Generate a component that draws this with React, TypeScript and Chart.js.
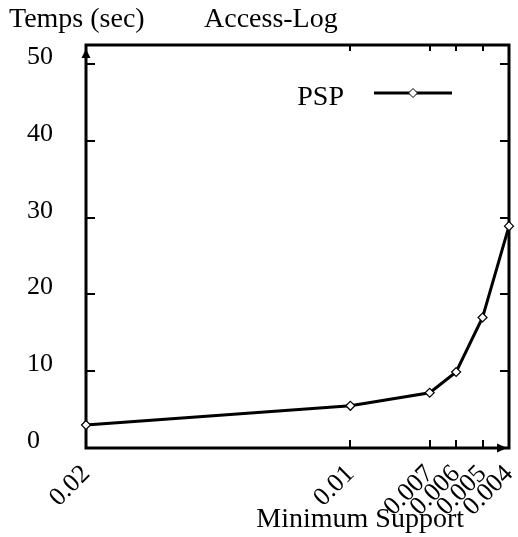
import React, { useEffect, useRef } from 'react';
import { Chart, registerables } from 'chart.js';

Chart.register(...registerables);

const supports = [0.02, 0.01, 0.007, 0.006, 0.005, 0.004];
const pspTimes = [3.0, 5.5, 7.2, 9.9, 17.0, 28.9];
const xTickValues = [0.02, 0.01, 0.007, 0.006, 0.005, 0.004];
const xTickLabels = ['0.02', '0.01', '0.007', '0.006', '0.005', '0.004'];
const yTickValues = [0, 10, 20, 30, 40, 50];
const yTickLabels = ['0', '10', '20', '30', '40', '50'];
const seriesName = 'PSP';
const chartTitle = 'Access-Log';
const yTitle = 'Temps (sec)';
const xTitle = 'Minimum Support';

const FONT = '"Liberation Serif", "Times New Roman", serif';

function line(ctx: CanvasRenderingContext2D, x1: number, y1: number, x2: number, y2: number) {
  ctx.beginPath();
  ctx.moveTo(x1, y1);
  ctx.lineTo(x2, y2);
  ctx.stroke();
}

const framePlugin = {
  id: 'frame',
  beforeDatasetsDraw(chart: any) {
    const { ctx, chartArea: a, scales } = chart;
    ctx.save();
    ctx.strokeStyle = '#000';
    ctx.fillStyle = '#000';
    ctx.lineWidth = 3;
    ctx.strokeRect(a.left, a.top, a.right - a.left, a.bottom - a.top);
    ctx.lineWidth = 2;
    scales.y.ticks.forEach((t: any) => {
      if (t.value <= 0) return;
      const p = Math.round(scales.y.getPixelForValue(t.value));
      line(ctx, a.left, p, a.left + 9, p);
      line(ctx, a.right, p, a.right - 9, p);
    });
    scales.x.ticks.forEach((t: any) => {
      const p = Math.round(scales.x.getPixelForValue(t.value));
      if (Math.abs(p - a.left) < 3 || Math.abs(p - a.right) < 3) return;
      line(ctx, p, a.bottom, p, a.bottom - 8);
      line(ctx, p, a.top, p, a.top + 6);
    });
    // axis arrow heads
    ctx.beginPath();
    ctx.moveTo(a.left, a.top + 4);
    ctx.lineTo(a.left - 4.5, a.top + 13);
    ctx.lineTo(a.left + 4.5, a.top + 13);
    ctx.closePath();
    ctx.fill();
    ctx.beginPath();
    ctx.moveTo(a.right - 2, a.bottom);
    ctx.lineTo(a.right - 12, a.bottom - 4.5);
    ctx.lineTo(a.right - 12, a.bottom + 4.5);
    ctx.closePath();
    ctx.fill();
    ctx.restore();
  },
};

const textPlugin = {
  id: 'texts',
  afterDraw(chart: any) {
    const { ctx, chartArea: a } = chart;
    ctx.save();
    ctx.fillStyle = '#000';
    ctx.font = `28px ${FONT}`;
    ctx.textBaseline = 'alphabetic';
    ctx.textAlign = 'left';
    ctx.fillText(yTitle, 9, 27);
    ctx.fillText(chartTitle, 204, 27);
    ctx.textAlign = 'right';
    ctx.fillText(xTitle, 464, 527);
    // legend
    const ds = chart.data.datasets[0];
    ctx.fillText(seriesName, a.right - 165, a.top + 60);
    const ly = a.top + 48;
    const lx1 = a.right - 135;
    const lx2 = a.right - 57;
    ctx.strokeStyle = ds.borderColor;
    ctx.lineWidth = ds.borderWidth;
    line(ctx, lx1, ly, lx2, ly);
    const cx = (lx1 + lx2) / 2;
    const r = ds.pointRadius;
    ctx.beginPath();
    ctx.moveTo(cx, ly - r);
    ctx.lineTo(cx + r, ly);
    ctx.lineTo(cx, ly + r);
    ctx.lineTo(cx - r, ly);
    ctx.closePath();
    ctx.fillStyle = '#fff';
    ctx.fill();
    ctx.lineWidth = 1;
    ctx.stroke();
    ctx.restore();
  },
};

export default function App() {
  const ref = useRef<HTMLCanvasElement | null>(null);
  useEffect(() => {
    if (!ref.current) return;
    const chart = new Chart(ref.current, {
      type: 'line',
      data: {
        datasets: [
          {
            label: seriesName,
            data: supports.map((s, i) => ({ x: s, y: pspTimes[i] })),
            borderColor: '#000',
            borderWidth: 3,
            pointStyle: 'rectRot',
            pointRadius: 4.5,
            pointBorderWidth: 1.2,
            pointBackgroundColor: '#fff',
            pointBorderColor: '#000',
            tension: 0,
            clip: false as any,
          } as any,
        ],
      },
      options: {
        animation: false,
        responsive: false,
        layout: { padding: { top: 45, right: 9, left: 0, bottom: 0 } },
        plugins: { legend: { display: false }, tooltip: { enabled: false }, title: { display: false } },
        scales: {
          x: {
            type: 'linear',
            reverse: true,
            min: 0.004,
            max: 0.02,
            grid: { display: false },
            border: { display: false },
            afterBuildTicks: (s: any) => {
              s.ticks = xTickValues.map((v) => ({ value: v }));
            },
            afterFit: (s: any) => {
              s.height = 89;
              s.paddingLeft = 0;
              s.paddingRight = 0;
            },
            ticks: {
              autoSkip: false,
              minRotation: 45,
              maxRotation: 45,
              padding: 3,
              color: '#000',
              font: { family: FONT, size: 26 },
              callback: (v: any) => {
                const i = xTickValues.findIndex((t) => Math.abs(t - v) < 1e-9);
                return i >= 0 ? xTickLabels[i] : '';
              },
            },
          },
          y: {
            type: 'linear',
            min: 0,
            max: 52.5,
            grid: { display: false },
            border: { display: false },
            afterBuildTicks: (s: any) => {
              s.ticks = yTickValues.map((v) => ({ value: v }));
            },
            afterFit: (s: any) => {
              s.width = 86;
              s.paddingTop = 0;
              s.paddingBottom = 0;
            },
            ticks: {
              padding: 25,
              color: '#000',
              font: { family: FONT, size: 26, lineHeight: '14px' },
              callback: (v: any) => {
                const i = yTickValues.indexOf(v);
                if (i < 0) return '';
                const lab = yTickLabels[i];
                return [lab.length === 1 ? lab + '\u2007' : lab, ''];
              },
            },
          },
        },
      },
      plugins: [framePlugin, textPlugin],
    });
    return () => chart.destroy();
  }, []);
  return (
    <div style={{ position: 'fixed', left: 0, top: 0, width: 518, height: 537, background: '#fff' }}>
      <canvas ref={ref} width={518} height={537} style={{ display: 'block' }} />
    </div>
  );
}
